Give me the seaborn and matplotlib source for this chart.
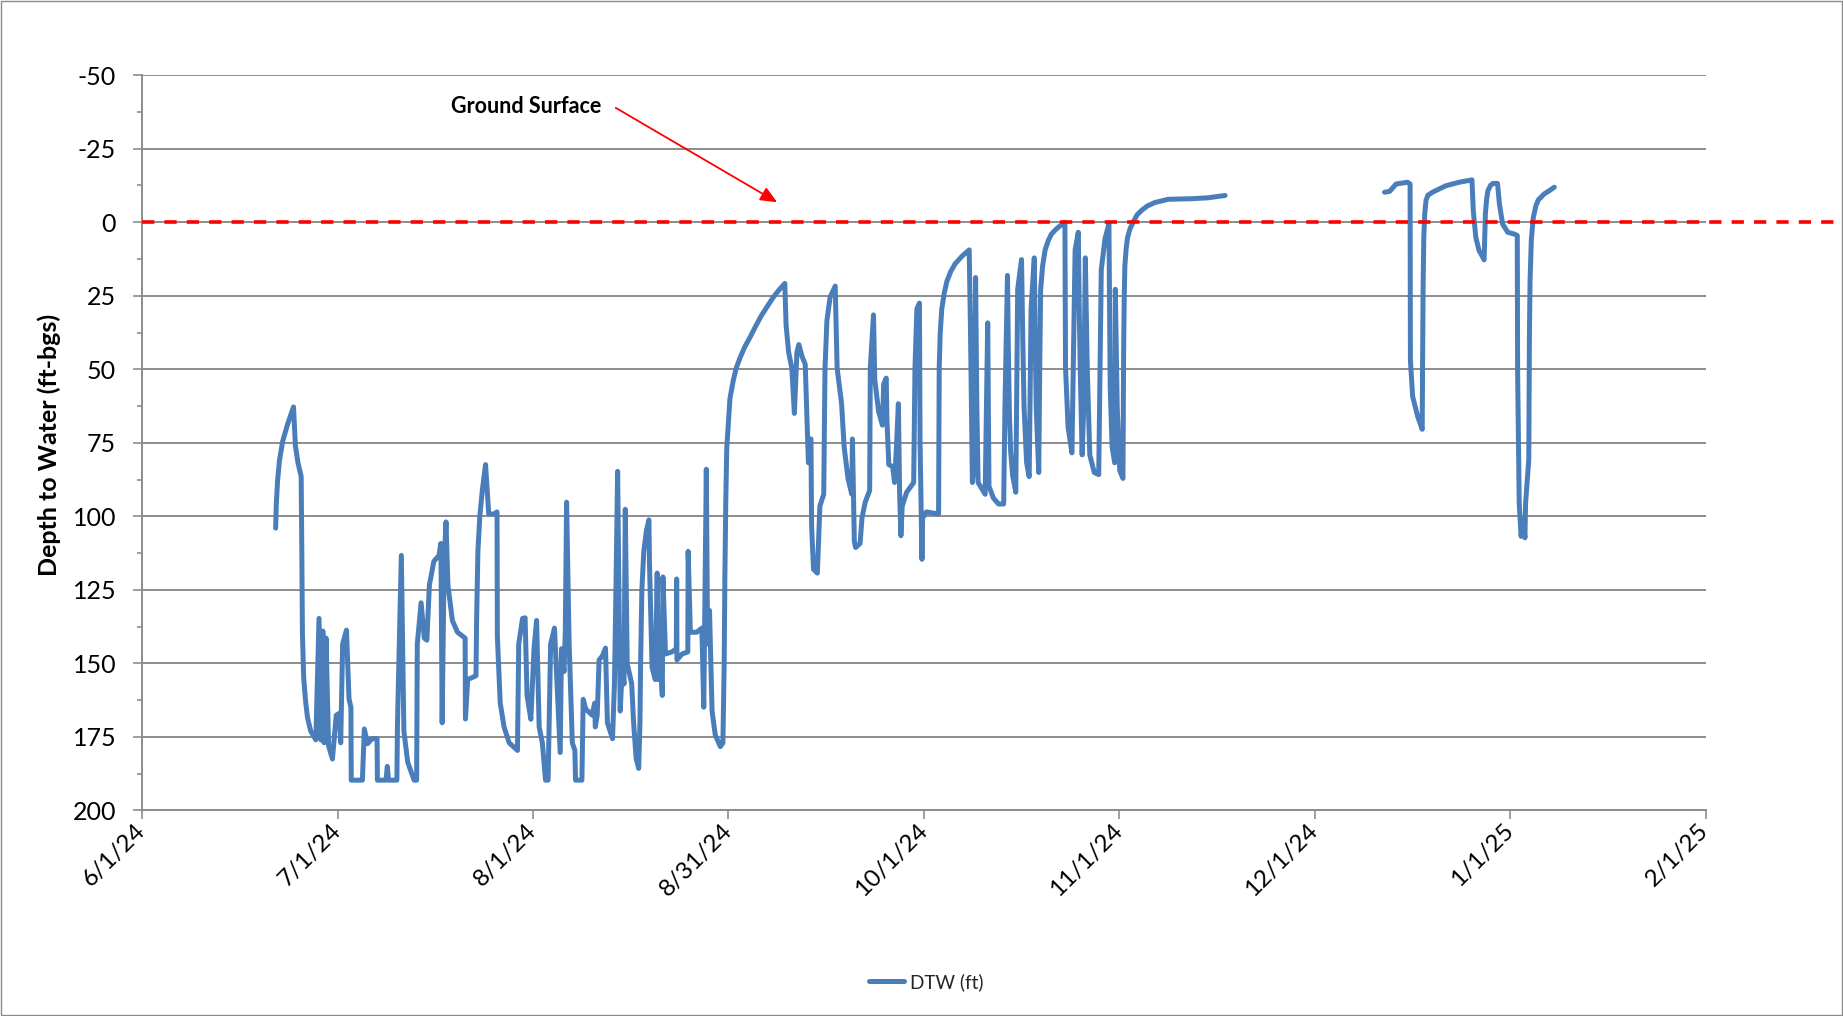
import numpy as np
import pandas as pd
import matplotlib
matplotlib.use("Agg")
import matplotlib.pyplot as plt
import matplotlib.dates as mdates
import seaborn as sns
from matplotlib.ticker import FixedLocator, MultipleLocator
from matplotlib.patches import Rectangle

# ---------------- data (days since 6/1/24, depth to water in ft-bgs) ----------------
start_date = pd.Timestamp("2024-06-01")

# late June - July
p1_days = [20.9, 21.0, 21.2, 21.5, 22.0, 22.8, 23.7, 24.0, 24.4, 24.9,
           25.0, 25.1, 25.3, 25.6, 25.9, 26.4, 27.2, 27.7, 28.0, 28.3,
           28.5, 28.8, 29.2, 29.8, 30.4, 30.9, 31.1, 31.4, 32.0, 32.4,
           32.7, 32.75, 34.5, 34.8, 35.3, 36.0, 36.8, 36.85, 38.2, 38.4,
           38.6, 39.9, 40.0, 40.6, 41.0, 41.6, 42.6, 43.0, 43.1, 43.7,
           44.2, 44.6, 45.0, 45.7, 46.5, 46.8, 47.0, 47.3, 47.6, 47.9,
           48.6, 49.4, 50.6, 50.65, 51.0, 52.3, 52.4, 52.6, 52.9, 53.3,
           53.8, 54.3, 55.1, 55.6, 55.65, 56.1, 56.7, 57.5]
p1_dtw = [104.0, 96.0, 88.0, 81.0, 74.5, 68.5, 62.8, 76.0, 81.8, 86.4,
          111.0, 140.0, 155.0, 163.0, 168.5, 173.0, 176.0, 134.7, 176.0, 139.0,
          177.0, 141.4, 178.0, 182.5, 167.6, 167.0, 177.0, 143.4, 138.7, 162.0,
          165.0, 189.7, 189.7, 172.3, 177.3, 175.6, 175.6, 189.7, 189.7, 185.0,
          189.7, 189.7, 170.0, 113.3, 173.0, 183.6, 189.7, 189.7, 143.4, 129.4,
          141.4, 142.1, 123.3, 115.3, 113.3, 109.2, 170.2, 116.6, 101.9, 123.3,
          135.4, 139.4, 141.4, 168.9, 155.5, 154.2, 135.0, 112.0, 100.0, 91.0,
          82.4, 99.2, 99.2, 98.5, 140.8, 163.5, 171.6, 177.0]

# August
p2_days = [58.8, 59.0, 59.6, 60.0, 60.3, 60.9, 61.4, 61.8, 62.2, 62.7,
           63.2, 63.6, 64.0, 64.6, 65.0, 65.5, 65.7, 66.1, 66.3, 66.5,
           66.9, 67.4, 67.8, 67.9, 68.9, 69.1, 69.5, 70.5, 70.9, 71.0,
           71.3, 71.6, 72.1, 72.6, 72.9, 73.7, 74.0, 74.2, 74.5, 74.9,
           75.2, 75.5, 75.7, 76.0, 76.7, 77.0, 77.4, 77.8, 78.0, 78.1,
           78.3, 78.6, 79.0, 79.4, 79.5, 79.9, 80.4, 80.7, 80.9, 81.2,
           81.5, 81.6, 82.0, 83.0, 83.7, 83.75, 83.8, 84.6, 85.5, 85.55,
           85.9, 86.9, 87.7, 88.0, 88.4, 88.6, 88.9, 89.3, 89.8, 90.6]
p2_dtw = [179.6, 143.4, 134.7, 134.5, 160.9, 169.0, 144.8, 135.4, 171.6, 177.0,
          189.7, 189.7, 143.4, 138.0, 156.8, 180.3, 145.0, 152.8, 139.0, 95.2,
          143.4, 177.0, 179.6, 189.7, 189.7, 162.2, 165.5, 167.6, 163.5, 171.6,
          167.6, 148.8, 147.5, 144.8, 170.2, 175.6, 157.0, 130.0, 84.7, 166.2,
          152.8, 157.0, 97.6, 150.1, 156.8, 170.0, 182.3, 185.7, 170.0, 150.0,
          125.0, 112.0, 105.0, 101.2, 116.6, 151.5, 155.5, 119.3, 155.5, 148.8,
          160.9, 120.6, 146.8, 146.1, 145.0, 121.3, 148.8, 146.8, 146.1, 111.9,
          139.4, 139.4, 138.0, 164.9, 84.0, 143.4, 132.0, 166.2, 174.3, 178.3]

# September - early October
p3_days = [91.0, 91.2, 91.3, 91.45, 91.6, 92.1, 92.6, 93.1, 93.7, 94.4,
           95.3, 96.1, 96.9, 97.9, 98.9, 99.8, 100.7, 100.9, 101.3, 101.8,
           102.2, 102.6, 102.9, 103.4, 103.9, 104.2, 104.4, 104.7, 104.8, 104.9,
           105.2, 105.8, 106.2, 106.8, 107.0, 107.3, 107.8, 108.6, 108.9, 109.6,
           110.0, 110.6, 111.2, 111.3, 111.6, 111.8, 112.5, 112.8, 113.3, 114.0,
           114.1, 114.6, 114.8, 115.4, 116.0, 116.2, 116.6, 116.7, 117.0, 117.6,
           117.9, 118.2, 118.5, 118.7, 118.9, 119.1, 119.8, 120.9, 121.1, 121.4,
           121.8, 121.9, 122.2, 122.3, 122.9, 124.8, 124.85, 124.9, 125.05, 125.3,
           125.7, 126.1, 126.7, 127.4, 128.5, 129.6, 129.8, 130.1, 130.4]
p3_dtw = [177.0, 150.0, 122.0, 95.0, 77.0, 60.0, 54.0, 49.5, 46.0, 42.5,
          38.9, 35.5, 32.2, 28.8, 25.5, 23.0, 20.8, 34.9, 44.2, 49.6,
          65.0, 44.2, 41.6, 45.6, 48.3, 68.4, 81.8, 73.7, 73.7, 103.2,
          118.0, 119.3, 96.5, 92.5, 49.6, 33.5, 25.5, 21.7, 49.6, 61.7,
          76.4, 87.1, 92.5, 73.7, 108.6, 110.6, 109.2, 100.5, 95.2, 91.2,
          49.6, 31.5, 53.6, 64.3, 69.0, 55.0, 53.0, 67.0, 82.4, 83.1,
          88.5, 76.4, 61.7, 92.5, 106.6, 96.5, 91.8, 88.5, 49.6, 29.5,
          27.5, 75.0, 114.6, 100.5, 98.5, 99.2, 75.0, 49.6, 38.0, 29.5,
          24.0, 20.1, 16.8, 14.1, 11.5, 9.4, 36.2, 88.5, 81.8]

# October - November
p4_days = [130.6, 130.8, 131.0, 132.1, 132.5, 132.7, 133.4, 134.2, 135.0, 135.2,
           135.6, 135.75, 135.9, 136.1, 136.4, 136.9, 137.2, 137.8, 138.0, 138.2,
           138.6, 139.0, 139.3, 139.8, 139.95, 140.1, 140.5, 140.65, 140.8, 141.1,
           141.5, 142.0, 142.5, 143.2, 143.8, 144.6, 144.7, 145.1, 145.7, 146.0,
           146.2, 146.7, 146.85, 147.0, 147.3, 147.55, 147.8, 148.1, 148.5, 149.2,
           149.9, 150.1, 150.3, 150.9, 151.5, 151.7, 152.0, 152.4, 152.5, 152.8,
           153.2, 153.7, 153.75, 153.8, 153.9, 154.0, 154.2, 154.4, 154.8, 155.3,
           155.9, 156.6, 157.5, 158.7, 160.8, 164.4, 167.0, 169.7]
p4_dtw = [18.8, 63.0, 88.5, 92.5, 34.2, 89.8, 93.8, 95.8, 95.8, 63.0,
          18.1, 45.0, 65.0, 78.0, 86.0, 91.8, 22.8, 12.7, 40.0, 63.0,
          81.8, 86.5, 29.5, 12.1, 40.0, 63.0, 85.1, 50.0, 22.8, 15.0,
          9.4, 6.2, 4.0, 2.4, 1.3, 0.0, 49.6, 69.7, 78.4, 36.2,
          9.4, 3.4, 30.0, 49.6, 79.1, 63.0, 12.1, 49.6, 79.1, 85.1,
          85.8, 49.6, 16.1, 5.4, 0.7, 56.3, 76.4, 81.8, 22.8, 63.0,
          84.5, 87.1, 65.0, 45.0, 25.0, 14.7, 9.0, 5.4, 2.2, 0.0,
          -2.5, -4.0, -5.5, -6.7, -7.8, -8.0, -8.3, -9.1]

# mid December - January (after data gap)
p5_days = [194.7, 195.5, 196.5, 198.3, 198.7, 198.75, 199.1, 199.9, 200.6, 200.65,
           200.75, 200.85, 201.0, 201.2, 201.5, 202.2, 204.3, 206.4, 208.4, 208.6,
           209.0, 209.5, 209.8, 210.3, 210.4, 210.5, 210.7, 210.9, 211.3, 211.7,
           212.4, 212.7, 213.2, 214.0, 215.0, 215.5, 215.55, 215.8, 216.1, 216.4,
           216.7, 216.8, 217.3, 217.4, 217.5, 217.7, 218.0, 218.4, 218.8, 219.7,
           220.5, 221.3]
p5_dtw = [-10.2, -10.5, -13.0, -13.6, -13.0, 46.9, 59.3, 66.1, 70.4, 50.0,
          20.0, 5.0, -3.0, -7.5, -9.2, -10.2, -12.4, -13.6, -14.4, -4.0,
          5.1, 9.6, 10.7, 12.8, 5.0, -2.8, -8.0, -10.7, -12.5, -13.2,
          -13.2, -6.2, 0.6, 3.4, 4.0, 4.5, 50.3, 95.5, 106.8, 101.1,
          107.3, 95.5, 80.8, 39.0, 20.0, 6.0, -1.5, -5.5, -7.6, -9.6,
          -10.7, -11.9]

x_tick_labels = ["6/1/24", "7/1/24", "8/1/24", "8/31/24", "10/1/24",
                 "11/1/24", "12/1/24", "1/1/25", "2/1/25"]
axis_span_days = 245
y_ticks = [-50, -25, 0, 25, 50, 75, 100, 125, 150, 175, 200]
ground_surface = 0
annotation_text = "Ground Surface"
series_name = "DTW (ft)"

# ---------------- styling ----------------
sns.set_theme(style="white")
plt.rcParams["font.family"] = ["Lato", "DejaVu Sans"]

W, H = 1843, 1016
fig = plt.figure(figsize=(W / 100, H / 100), dpi=100)
fig.patch.set_facecolor("white")

left, right, top, bottom = 0.0772, 0.9254, 0.926, 0.2023
ax = fig.add_axes([left, bottom, right - left, top - bottom])

blue = "#4A7EBB"
grid_gray = "#8C8C8C"

seg1 = pd.DataFrame({"day": p1_days + p2_days + p3_days + p4_days,
                     "dtw": p1_dtw + p2_dtw + p3_dtw + p4_dtw})
seg2 = pd.DataFrame({"day": p5_days, "dtw": p5_dtw})
for d in (seg1, seg2):
    d["date"] = start_date + pd.to_timedelta(d["day"], unit="D")

line_kw = dict(color=blue, linewidth=3.6, sort=False, estimator=None,
               solid_capstyle="round", solid_joinstyle="round", zorder=3)
sns.lineplot(data=seg1, x="date", y="dtw", ax=ax, label=series_name, **line_kw)
sns.lineplot(data=seg2, x="date", y="dtw", ax=ax, label="_nolegend_", **line_kw)

x0 = mdates.date2num(start_date)
x_ticks = [x0 + k * axis_span_days / 8 for k in range(9)]
ax.set_xlim(x0, x0 + axis_span_days)
ax.xaxis.set_major_locator(FixedLocator(x_ticks))
ax.set_xticklabels(x_tick_labels)

ax.set_ylim(200, -50)
ax.yaxis.set_major_locator(FixedLocator(y_ticks))
ax.yaxis.set_minor_locator(MultipleLocator(12.5))
ax.set_yticklabels([str(v) for v in y_ticks])

ax.set_xlabel("")
ax.set_ylabel("")

ax.yaxis.grid(True, which="major", color=grid_gray, linewidth=1.4, zorder=0)
ax.xaxis.grid(False)
for s in ["top", "right"]:
    ax.spines[s].set_visible(False)
for s in ["left", "bottom"]:
    ax.spines[s].set_color(grid_gray)
    ax.spines[s].set_linewidth(1.4)

ax.tick_params(axis="y", which="major", direction="out", length=6.8, width=1.2,
               color=grid_gray, labelsize=18, labelcolor="black", pad=12, left=True)
ax.tick_params(axis="y", which="minor", direction="out", length=3.6, width=1.2,
               color=grid_gray, left=True)
ax.tick_params(axis="x", which="major", direction="out", length=6.8, width=1.2,
               color=grid_gray, labelsize=17.5, labelcolor="black", pad=5, bottom=True)
for lbl in ax.get_xticklabels():
    lbl.set_rotation(45)
    lbl.set_ha("right")
    lbl.set_va("center")
    lbl.set_rotation_mode("anchor")

# ground surface dashed line (extends past the plot area)
ax.plot([0, 1.086], [ground_surface, ground_surface], transform=ax.get_yaxis_transform(),
        color="#FF0000", linewidth=2.6, dashes=(3.4, 2.8), clip_on=False, zorder=4)

# annotation
tip = (x0 + 99.5, -6.8)
tail = (x0 + 74.2, -38.9)
ax.annotate("", xy=tip, xytext=tail,
            arrowprops=dict(arrowstyle="-|>,head_length=0.5,head_width=0.22",
                            mutation_scale=20, color="#FF0000", lw=1.3,
                            shrinkA=0, shrinkB=0), zorder=5)
ax.text(x0 + 60.2, -39.2, annotation_text, ha="center", va="center",
        fontsize=15.5, fontweight="bold", color="black", zorder=5)

# y axis title
fig.text(0.0268, 0.562, "Depth to Water (ft-bgs)", rotation=90, ha="center", va="center",
         fontsize=18, fontweight="bold", color="black")

# legend
leg = ax.legend(loc="center", bbox_to_anchor=(0.5026, 0.0335), bbox_transform=fig.transFigure,
                frameon=False, fontsize=13.6, handlelength=1.85, handletextpad=0.35)
for h in leg.get_lines():
    h.set_linewidth(3.6)

# chart border
fig.patches.append(Rectangle((0.6 / W, 0.6 / H), 1 - 1.8 / W, 1 - 1.8 / H, transform=fig.transFigure,
                             fill=False, edgecolor="#8C8C8C", linewidth=1.0))

fig.savefig("out.png", dpi=100, facecolor="white")
